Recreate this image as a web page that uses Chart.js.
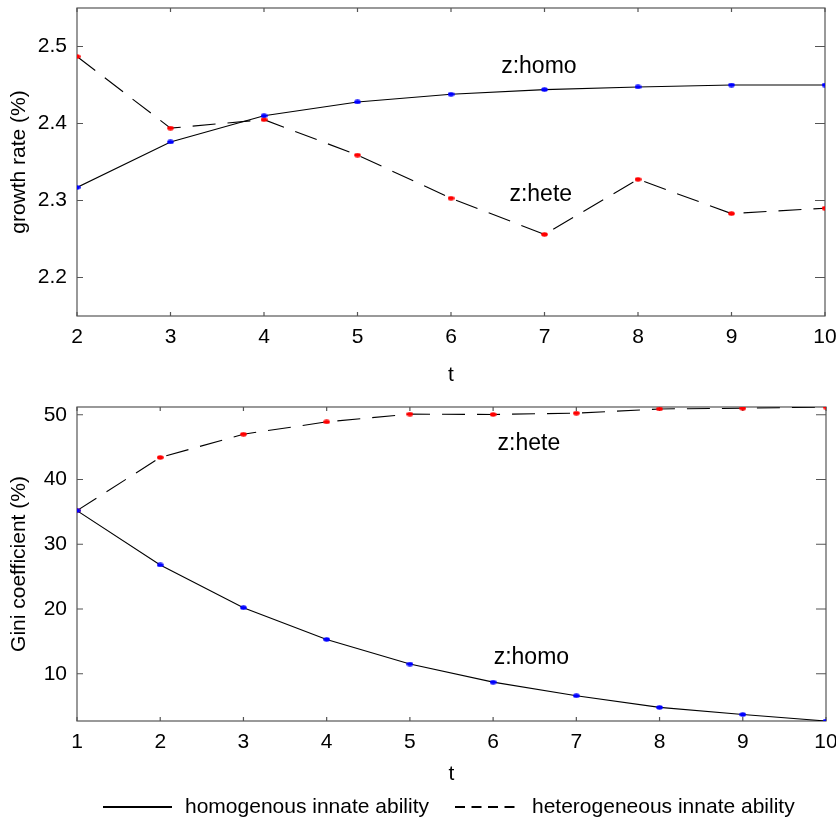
<!DOCTYPE html>
<html><head><meta charset="utf-8">
<script src="https://cdn.jsdelivr.net/npm/chart.js@4.4.0/dist/chart.umd.min.js"></script>
<style>
html,body{margin:0;padding:0;background:#fff;overflow:hidden;}
#wrap{position:relative;width:836px;height:817px;overflow:hidden;}
#c1{position:absolute;left:0;top:0;}
#c2{position:absolute;left:0;top:395px;}
</style></head><body>
<div id="wrap"><canvas id="c1" width="836" height="395"></canvas><canvas id="c2" width="836" height="422"></canvas></div>
<script>
// ---- data ----
const growthT = [2, 3, 4, 5, 6, 7, 8, 9, 10];
const growthHomo = [2.317, 2.376, 2.410, 2.428, 2.438, 2.444, 2.4475, 2.450, 2.450];
const growthHete = [2.487, 2.394, 2.405, 2.359, 2.303, 2.256, 2.3275, 2.283, 2.290];
const growthYTicks = [2.2, 2.3, 2.4, 2.5];

const giniT = [1, 2, 3, 4, 5, 6, 7, 8, 9, 10];
const giniHomo = [35.2, 26.8, 20.2, 15.3, 11.5, 8.7, 6.6, 4.8, 3.7, 2.7];
const giniHete = [35.2, 43.4, 47.0, 48.9, 50.1, 50.05, 50.25, 50.9, 51.0, 51.2];
const giniYTicks = [10, 20, 30, 40, 50];

const seriesNames = ['homogenous innate ability', 'heterogeneous innate ability'];
const FONT = "'Liberation Sans', Arial, Helvetica, sans-serif";

// elliptical marker
function dot(color) {
  const c = document.createElement('canvas');
  c.width = 7; c.height = 5;
  const g = c.getContext('2d');
  g.fillStyle = color;
  g.beginPath(); g.ellipse(3.5, 2.5, 3.3, 2.2, 0, 0, Math.PI * 2); g.fill();
  return c;
}
const redDot = dot('#ff0000'), blueDot = dot('#0000ff');

const framePlugin = {
  id: 'frame',
  beforeDatasetsDraw(chart) {
    const {ctx, chartArea: a, scales: {x, y}} = chart;
    ctx.save();
    ctx.strokeStyle = '#555';
    ctx.lineWidth = 1.2;
    ctx.strokeRect(a.left, a.top, a.right - a.left, a.bottom - a.top);
    ctx.beginPath();
    x.ticks.forEach(t => {
      const px = x.getPixelForValue(t.value);
      ctx.moveTo(px, a.bottom); ctx.lineTo(px, a.bottom - 4);
      ctx.moveTo(px, a.top); ctx.lineTo(px, a.top + 4);
    });
    y.ticks.forEach(t => {
      const py = y.getPixelForValue(t.value);
      ctx.moveTo(a.left, py); ctx.lineTo(a.left + 6, py);
      ctx.moveTo(a.right, py); ctx.lineTo(a.right - 10, py);
    });
    ctx.stroke();
    ctx.restore();
  }
};

const notePlugin = {
  id: 'notes',
  afterDatasetsDraw(chart, args, opts) {
    const {ctx, scales: {x, y}} = chart;
    ctx.save();
    ctx.font = '23px ' + FONT;
    ctx.fillStyle = '#000';
    ctx.textAlign = 'center';
    ctx.textBaseline = 'middle';
    (opts.items || []).forEach(it => {
      ctx.fillText(it.text, x.getPixelForValue(it.x), y.getPixelForValue(it.y));
    });
    ctx.restore();
  }
};

const legendPlugin = {
  id: 'lineLegend',
  afterDraw(chart, args, opts) {
    if (!opts.items) return;
    const ctx = chart.ctx;
    ctx.save();
    chart.data.datasets.forEach((ds, i) => {
      const it = opts.items[i];
      ctx.strokeStyle = '#000';
      ctx.lineWidth = 2;
      ctx.setLineDash(ds.borderDash && ds.borderDash.length ? [10, 6.5] : []);
      ctx.beginPath(); ctx.moveTo(it.x0, opts.y); ctx.lineTo(it.x1, opts.y); ctx.stroke();
      ctx.setLineDash([]);
      ctx.font = '21px ' + FONT;
      ctx.fillStyle = '#000';
      ctx.textAlign = 'left';
      ctx.textBaseline = 'middle';
      ctx.fillText(ds.label, it.tx, opts.y);
    });
    ctx.restore();
  }
};

function makeChart(canvas, cfg) {
  const tickFont = {size: 21, family: FONT};
  const titleFont = {size: 21, family: FONT};
  return new Chart(canvas, {
    type: 'line',
    data: {
      datasets: [
        {label: seriesNames[0], data: cfg.t.map((v, i) => ({x: v, y: cfg.homo[i]})),
         borderColor: '#000', borderWidth: 1.1, pointStyle: blueDot, pointRadius: 3, tension: 0, order: 1},
        {label: seriesNames[1], data: cfg.t.map((v, i) => ({x: v, y: cfg.hete[i]})),
         borderColor: '#000', borderWidth: 1.1, borderDash: [23, 12], pointStyle: redDot, pointRadius: 3, tension: 0, order: 2}
      ]
    },
    options: {
      responsive: false, animation: false, devicePixelRatio: 1,
      layout: {padding: cfg.padding},
      plugins: {legend: {display: false}, tooltip: {enabled: false},
                notes: {items: cfg.notes}, lineLegend: cfg.legend || {}},
      scales: {
        x: {
          type: 'linear', min: cfg.t[0], max: cfg.t[cfg.t.length - 1],
          afterBuildTicks: s => { s.ticks = cfg.t.map(v => ({value: v})); },
          ticks: {font: tickFont, color: '#000', padding: 9, maxRotation: 0, autoSkip: false, callback: v => String(v)},
          grid: {display: false, drawTicks: false}, border: {display: false},
          title: {display: true, text: 't', font: titleFont, color: '#000', padding: 0},
          afterFit: s => { s.height = cfg.xHeight; s.paddingLeft = 0; s.paddingRight = 0; }
        },
        y: {
          type: 'linear', min: cfg.yMin, max: cfg.yMax,
          afterBuildTicks: s => { s.ticks = cfg.yTicks.map(v => ({value: v})); },
          ticks: {font: tickFont, color: '#000', padding: 10, callback: cfg.yFmt},
          grid: {display: false, drawTicks: false}, border: {display: false},
          title: {display: true, text: cfg.yTitle, font: titleFont, color: '#000', padding: {top: 7, bottom: 0}},
          afterFit: s => { s.width = 77; s.paddingTop = 0; s.paddingBottom = 0; }
        }
      }
    },
    plugins: [framePlugin, notePlugin, legendPlugin]
  });
}

makeChart(document.getElementById('c1'), {
  t: growthT, homo: growthHomo, hete: growthHete,
  yMin: 2.15, yMax: 2.55, yTicks: growthYTicks, yFmt: v => Number(v).toFixed(1),
  yTitle: 'growth rate (%)',
  padding: {left: 0, right: 11, top: 8, bottom: 7}, xHeight: 72,
  notes: [{text: 'z:homo', x: 6.94, y: 2.4735}, {text: 'z:hete', x: 6.96, y: 2.308}]
});

makeChart(document.getElementById('c2'), {
  t: giniT, homo: giniHomo, hete: giniHete,
  yMin: 2.7, yMax: 51.2, yTicks: giniYTicks, yFmt: v => String(v),
  yTitle: 'Gini coefficient (%)',
  padding: {left: 0, right: 10, top: 12, bottom: 30}, xHeight: 66,
  notes: [{text: 'z:hete', x: 6.43, y: 45.5}, {text: 'z:homo', x: 6.46, y: 12.5}],
  legend: {y: 412, items: [{x0: 103, x1: 172, tx: 185}, {x0: 455, x1: 518, tx: 532}]}
});
</script>
</body></html>
